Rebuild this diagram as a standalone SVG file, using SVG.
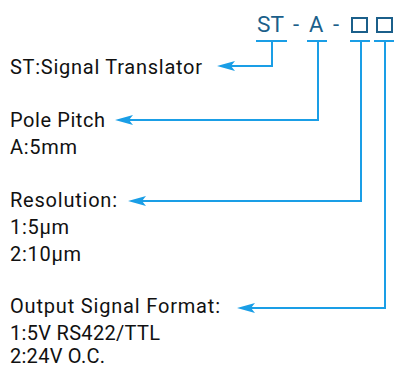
<svg xmlns="http://www.w3.org/2000/svg" width="396" height="367" viewBox="0 0 396 367">
<defs>
<style>
.lbl{font-family:Roboto,"Liberation Sans",sans-serif;font-size:20px;font-weight:400;fill:#111111}
.code{font-family:Roboto,"Liberation Sans",sans-serif;font-size:22px;font-weight:400;fill:#1b5f8a}
.box{fill:none;stroke:#1b5f8a;stroke-width:2}
.ul{stroke:#1a9ee6;stroke-width:2.2;fill:none}
.con{stroke:#1a9ee6;stroke-width:2;fill:none;marker-end:url(#ah)}
</style>
<marker id="ah" markerUnits="userSpaceOnUse" viewBox="0 0 18 10" refX="4" refY="5" markerWidth="18" markerHeight="10" orient="auto">
<path d="M0,0 L18,5 L0,10 L4,5 Z" fill="#1a9ee6"/>
</marker>
</defs>
<g id="code">
<text class="code" x="257" y="32" textLength="27" lengthAdjust="spacingAndGlyphs">ST</text>
<text class="code" x="293" y="32">-</text>
<text class="code" x="309" y="32">A</text>
<text class="code" x="333" y="32">-</text>
<rect class="box" x="352" y="18" width="15" height="14"/>
<rect class="box" x="377" y="18" width="15" height="14"/>
</g>
<g id="n-type"><text class="lbl" x="10" y="74" textLength="192">ST:Signal Translator</text></g>
<g id="n-pitch"><text class="lbl" x="10" y="127" textLength="95">Pole Pitch</text><text class="lbl" x="10" y="154" textLength="67">A:5mm</text></g>
<g id="n-res"><text class="lbl" x="10" y="207" textLength="107">Resolution:</text><text class="lbl" x="10" y="234" textLength="59">1:5μm</text><text class="lbl" x="10" y="261" textLength="71">2:10μm</text></g>
<g id="n-out"><text class="lbl" x="10" y="313" textLength="210">Output Signal Format:</text><text class="lbl" x="10" y="340" textLength="150">1:5V RS422/TTL</text><text class="lbl" x="10" y="363" textLength="95">2:24V O.C.</text></g>
<g id="connectors">
<path class="ul" d="M256,41H287M307,41H327M350,41H370M374,41H394"/>
<path class="con" d="M272,41V66H231"/>
<path class="con" d="M318,41V120H129"/>
<path class="con" d="M361,41V201H142"/>
<path class="con" d="M385,41V308H251"/>
</g>
</svg>
